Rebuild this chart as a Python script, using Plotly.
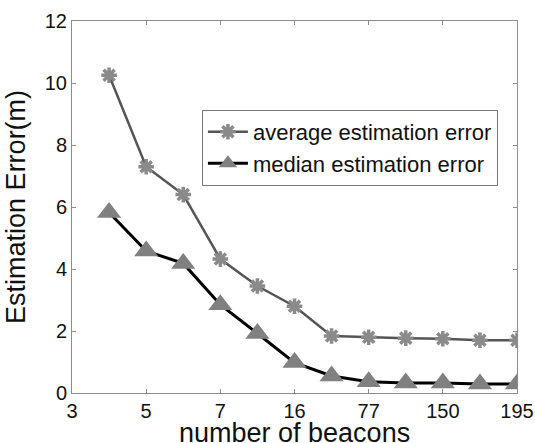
import plotly.graph_objects as go

x_pos = [1, 2, 3, 4, 5, 6, 7, 8, 9, 10, 11, 12]
avg_err = [10.25, 7.3, 6.4, 4.32, 3.45, 2.8, 1.84, 1.8, 1.77, 1.75, 1.7, 1.7]
med_err = [5.82, 4.58, 4.18, 2.85, 1.92, 0.98, 0.55, 0.36, 0.32, 0.32, 0.29, 0.29]
tick_pos = [0, 2, 4, 6, 8, 10, 12]
tick_labels = ["3", "5", "7", "16", "77", "150", "195"]
y_ticks = [0, 2, 4, 6, 8, 10, 12]
x_title = "number of beacons"
y_title = "Estimation Error(m)"

FONT = "Liberation Sans, Arial, sans-serif"

fig = go.Figure()
fig.add_trace(go.Scatter(
    x=x_pos, y=avg_err, mode="lines+markers", name="average estimation error",
    line=dict(color="#555555", width=2.5),
    marker=dict(symbol="asterisk-open", size=13, color="#8a8a8a",
                line=dict(color="#8a8a8a", width=3.5)),
))
fig.add_trace(go.Scatter(
    x=x_pos, y=med_err, mode="lines+markers", name="median estimation error",
    line=dict(color="#000000", width=3),
    marker=dict(symbol="triangle-up", size=21, color="#808080",
                line=dict(width=0)),
))

axis_common = dict(
    showgrid=False, zeroline=False, showline=True, linecolor="#8c8c8c",
    linewidth=1, mirror="ticks", ticks="inside", ticklen=4, tickcolor="#8c8c8c",
    tickfont=dict(family=FONT, size=20, color="#111111"),
    automargin=False,
)

fig.update_layout(
    width=535, height=443,
    margin=dict(l=72, r=18, t=21, b=50),
    paper_bgcolor="white", plot_bgcolor="white",
    font=dict(family=FONT, color="#111111"),
    xaxis=dict(range=[0, 12], tickmode="array", tickvals=tick_pos,
               ticktext=tick_labels, **axis_common),
    yaxis=dict(range=[0, 12], tickmode="array", tickvals=y_ticks,
               **axis_common),
    legend=dict(x=0.292, y=0.761, xanchor="left", yanchor="top",
                bgcolor="white", bordercolor="#777777", borderwidth=1,
                font=dict(family=FONT, size=22, color="#111111"),
                tracegroupgap=0, itemwidth=40),
    showlegend=True,
    annotations=[
        dict(text=x_title, xref="paper", yref="paper", x=0.5, y=-0.107,
             xanchor="center", yanchor="middle", showarrow=False,
             font=dict(family=FONT, size=27, color="#111111")),
        dict(text=y_title, xref="paper", yref="paper", x=-0.126, y=0.5,
             xanchor="center", yanchor="middle", showarrow=False, textangle=-90,
             font=dict(family=FONT, size=27, color="#111111")),
    ],
)

fig.write_html("out.html")
